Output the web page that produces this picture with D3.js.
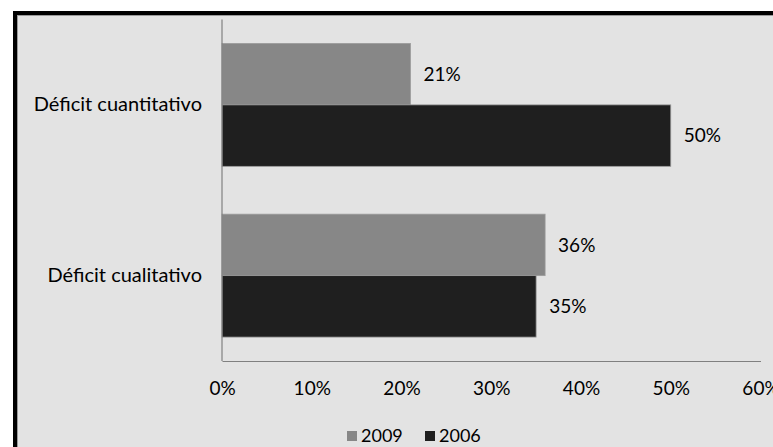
<!DOCTYPE html>
<html><head><meta charset="utf-8">
<script src="https://cdn.jsdelivr.net/npm/d3@7"></script>
<style>html,body{margin:0;padding:0;background:#fff;overflow:hidden}</style>
</head><body>
<svg id="c" width="773" height="447"></svg>
<script>
const categories = ["Déficit cuantitativo", "Déficit cualitativo"];
const seriesNames = ["2009", "2006"];
const values2009 = [21, 36];
const values2006 = [50, 35];
const tickValues = [0, 10, 20, 30, 40, 50, 60];
const colors = ["#878787", "#1f1f1f"];

const font = "Lato, 'Open Sans', sans-serif";
const svg = d3.select("#c");

// frame
svg.append("rect").attr("x", 15).attr("y", 13).attr("width", 800).attr("height", 500)
  .attr("fill", "#e3e3e3").attr("stroke", "#000").attr("stroke-width", 4);
svg.append("rect").attr("x", 17.5).attr("y", 15.5).attr("width", 800).attr("height", 500)
  .attr("fill", "none").attr("stroke", "#9a9a9a").attr("stroke-width", 1);

const x = d3.scaleLinear().domain([0, 60]).range([222, 760.5]);
const y = d3.scaleBand().domain(categories).range([19.5, 361]).paddingInner(0.28).paddingOuter(0.14);
const ySub = d3.scaleBand().domain(seriesNames).range([0, y.bandwidth()]);

const data = categories.map((c, i) => ({cat: c, vals: [values2009[i], values2006[i]]}));

const g = svg.append("g");
data.forEach(d => {
  d.vals.forEach((v, j) => {
    const yy = y(d.cat) + ySub(seriesNames[j]);
    g.append("rect").attr("x", x(0)).attr("y", yy).attr("width", x(v) - x(0)).attr("height", ySub.bandwidth())
      .attr("fill", colors[j]).attr("stroke", "#9c9c9c").attr("stroke-width", 0.8);
    g.append("text").attr("x", x(v) + 13).attr("y", yy + ySub.bandwidth() / 2)
      .attr("dy", "0.35em").attr("font-family", font).attr("font-size", 19).attr("fill", "#000")
      .text(v + "%");
  });
});

// y axis
const yAxis = g.append("g").attr("transform", `translate(${x(0)},0)`)
  .call(d3.axisLeft(y).tickSize(0).tickPadding(20));
yAxis.select(".domain").attr("d", `M0,19.5V361`).attr("stroke", "#808080").attr("stroke-width", 1.2);
yAxis.selectAll("text").attr("font-family", font).attr("font-size", 20).attr("fill", "#000");

// x axis
const xAxis = g.append("g").attr("transform", `translate(0,361)`)
  .call(d3.axisBottom(x).tickValues(tickValues).tickSize(0).tickPadding(21).tickFormat(d => d + "%"));
xAxis.select(".domain").attr("stroke", "#808080").attr("stroke-width", 1.2);
xAxis.selectAll("text").attr("font-family", font).attr("font-size", 19).attr("fill", "#000");

// legend
const leg = svg.append("g").attr("transform", "translate(347,436)");
const legX = [0, 78];
seriesNames.forEach((s, j) => {
  leg.append("rect").attr("x", legX[j]).attr("y", -5).attr("width", 10).attr("height", 10).attr("fill", colors[j]);
  leg.append("text").attr("x", legX[j] + 14).attr("y", 0).attr("dy", "0.35em")
    .attr("font-family", font).attr("font-size", 18).attr("fill", "#000").text(s);
});
</script>
</body></html>
